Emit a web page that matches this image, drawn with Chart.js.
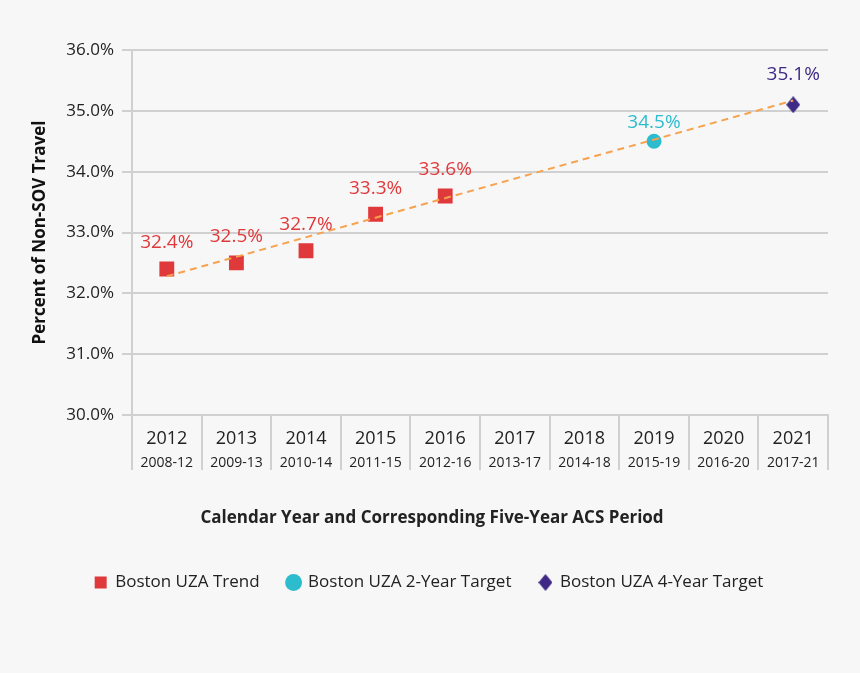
<!DOCTYPE html>
<html>
<head>
<meta charset="utf-8">
<script src="https://cdn.jsdelivr.net/npm/chart.js@4"></script>
<style>
  html, body { margin: 0; padding: 0; background: #f7f7f7; }
  #wrap { width: 860px; height: 673px; }
</style>
</head>
<body>
<div id="wrap"><canvas id="nonSovChart"></canvas></div>
<script>
'use strict';

// カテゴリ
const years = ['2012', '2013', '2014', '2015', '2016', '2017', '2018', '2019', '2020', '2021'];
const acsPeriods = ['2008-12', '2009-13', '2010-14', '2011-15', '2012-16', '2013-17', '2014-18', '2015-19', '2016-20', '2017-21'];

// 系列
const trendValues = [32.4, 32.5, 32.7, 33.3, 33.6, null, null, null, null, null];
const target2Values = [null, null, null, null, null, null, null, 34.5, null, null];
const target4Values = [null, null, null, null, null, null, null, null, null, 35.1];
const trendLineValues = [32.28, null, null, null, null, null, null, null, null, 35.17];

const yTicks = [30, 31, 32, 33, 34, 35, 36];

const red = '#e0393b';
const teal = '#2dbccd';
const purple = '#3e2a86';
const orange = '#f7a24e';
const grid = '#d0d0d0';
const font = "'Open Sans', sans-serif";

// 縦長のダイヤ
function diamond(w, h, color) {
    const c = document.createElement('canvas');
    c.width = w;
    c.height = h;
    const g = c.getContext('2d');
    g.fillStyle = color;
    g.beginPath();
    g.moveTo(w / 2, 0);
    g.lineTo(w, h / 2);
    g.lineTo(w / 2, h);
    g.lineTo(0, h / 2);
    g.closePath();
    g.fill();
    return c;
}
const diamondImg = diamond(14, 17, purple);

const extras = {
    id: 'extras',
    afterDatasetsDraw(chart) {
        const ctx = chart.ctx;
        ctx.save();
        ctx.textAlign = 'center';
        ctx.textBaseline = 'middle';
        ctx.font = '19px ' + font;
        chart.data.datasets.forEach((ds, di) => {
            if (!ds.labelColor) return;
            const meta = chart.getDatasetMeta(di);
            meta.data.forEach((pt, i) => {
                const v = ds.data[i];
                if (v == null) return;
                ctx.fillStyle = ds.labelColor;
                ctx.fillText(v.toFixed(1) + '%', pt.x, pt.y - ds.labelOffset);
            });
        });
        const x = chart.scales.x;
        ctx.fillStyle = '#222';
        ctx.font = '14px ' + font;
        acsPeriods.forEach((p, i) => {
            ctx.fillText(p, x.getPixelForValue(i), x.top + 48);
        });
        ctx.font = 'bold 17px ' + font;
        ctx.fillText('Calendar Year and Corresponding Five-Year ACS Period', 432, 518);
        ctx.restore();
    }
};

const ctx = document.getElementById('nonSovChart').getContext('2d');
const chart = new Chart(ctx, {
    type: 'line',
    data: {
        labels: years,
        datasets: [
            {
                label: 'Trend line',
                data: trendLineValues,
                spanGaps: true,
                borderColor: orange,
                borderWidth: 2,
                borderDash: [7, 5],
                pointRadius: 0,
                fill: false
            },
            {
                label: 'Boston UZA Trend',
                data: trendValues,
                showLine: false,
                pointStyle: 'rect',
                pointRadius: 10.5,
                pointHoverRadius: 10.5,
                backgroundColor: red,
                borderColor: red,
                borderWidth: 0,
                labelColor: red,
                labelOffset: 26
            },
            {
                label: 'Boston UZA 2-Year Target',
                data: target2Values,
                showLine: false,
                pointStyle: 'circle',
                pointRadius: 7.5,
                backgroundColor: teal,
                borderColor: teal,
                borderWidth: 0,
                labelColor: teal,
                labelOffset: 19
            },
            {
                label: 'Boston UZA 4-Year Target',
                data: target4Values,
                showLine: false,
                pointStyle: diamondImg,
                backgroundColor: purple,
                borderColor: purple,
                labelColor: purple,
                labelOffset: 30
            }
        ]
    },
    options: {
        responsive: true,
        maintainAspectRatio: false,
        animation: false,
        layout: {
            padding: { top: 50, right: 32, bottom: 72, left: 30 }
        },
        plugins: {
            legend: {
                position: 'bottom',
                labels: {
                    usePointStyle: true,
                    boxWidth: 12,
                    boxHeight: 12,
                    color: '#222',
                    font: { family: font, size: 17 },
                    padding: 28,
                    filter: (item) => item.text !== 'Trend line'
                }
            },
            tooltip: { enabled: false }
        },
        scales: {
            x: {
                offset: true,
                grid: {
                    offset: true,
                    drawOnChartArea: false,
                    drawTicks: true,
                    tickLength: 55,
                    color: grid,
                    lineWidth: 2
                },
                border: { display: true, color: grid, width: 2 },
                ticks: {
                    color: '#222',
                    font: { family: font, size: 18 },
                    padding: -42,
                    maxRotation: 0
                },
                afterFit(scale) { scale.height = 131; }
            },
            y: {
                min: 30,
                max: 36,
                afterBuildTicks(scale) { scale.ticks = yTicks.map(v => ({ value: v })); },
                grid: {
                    color: grid,
                    lineWidth: 2,
                    drawTicks: true,
                    tickLength: 10
                },
                border: { display: true, color: grid, width: 2 },
                ticks: {
                    color: '#222',
                    font: { family: font, size: 17 },
                    padding: 8,
                    callback: (v) => Number(v).toFixed(1) + '%'
                },
                title: {
                    display: true,
                    text: 'Percent of Non-SOV Travel',
                    color: '#111',
                    font: { family: font, size: 17, weight: 'bold' },
                    padding: { top: 0, bottom: 0 }
                },
                afterFit(scale) { scale.width = 102; }
            }
        }
    },
    plugins: [extras]
});
</script>
</body>
</html>
